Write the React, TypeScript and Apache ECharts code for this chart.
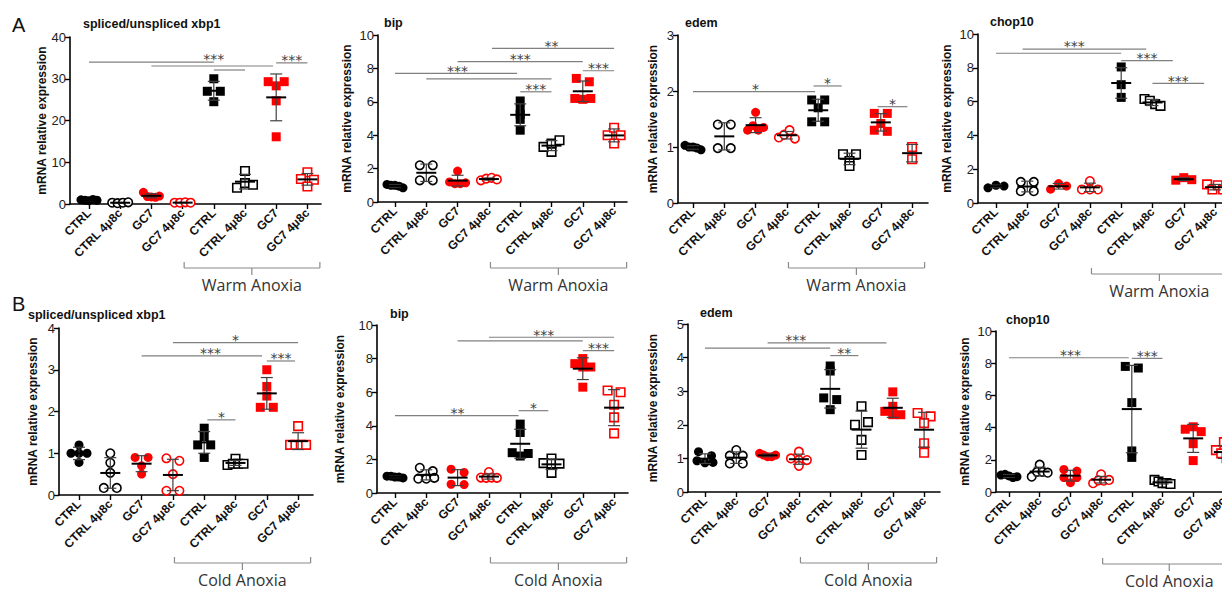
import React, { useEffect, useRef } from "react";
import * as echarts from "echarts";

// ---------------- DATA ----------------
const CATEGORIES = ["CTRL", "CTRL 4μ8c", "GC7", "GC7 4μ8c", "CTRL", "CTRL 4μ8c", "GC7", "GC7 4μ8c"];
const GENE_TITLES = ["spliced/unspliced xbp1", "bip", "edem", "chop10"];
const ROW_LETTERS = ["A", "B"];
const ROW_CONDITIONS = ["Warm Anoxia", "Cold Anoxia"];
const Y_AXIS_NAME = "mRNA relative expression";

const warmYMax = [40, 10, 3, 10];
const warmYStep = [10, 2, 1, 2];
const coldYMax = [4, 10, 5, 10];
const coldYStep = [1, 2, 1, 2];

// values per category (8 groups)
const warmXbp1 = [
  [1.0, 0.9, 0.8, 1.1, 0.9],
  [0.3, 0.2, 0.3, 0.4],
  [2.8, 1.8, 1.7, 1.6, 1.9],
  [0.3, 0.3, 0.4, 0.3],
  [30.0, 27.0, 27.0, 24.5],
  [7.9, 3.9, 5.0, 4.6],
  [29.3, 28.3, 29.3, 24.7, 16.1],
  [7.6, 6.0, 5.8, 4.2],
];
const warmBip = [
  [1.05, 1.0, 1.0, 0.95, 0.85],
  [2.2, 2.2, 1.3, 1.3],
  [1.2, 1.85, 1.1, 1.1, 1.15],
  [1.3, 1.4, 1.45, 1.35],
  [6.05, 5.55, 5.25, 4.95, 4.3],
  [3.0, 3.3, 3.5, 3.7],
  [7.4, 7.2, 6.2, 6.15, 6.2],
  [4.0, 4.45, 4.0, 3.5],
];
const warmEdem = [
  [1.03, 1.0, 1.0, 0.98, 0.95],
  [1.4, 1.4, 0.98, 0.98],
  [1.3, 1.62, 1.38, 1.3, 1.35],
  [1.17, 1.22, 1.3, 1.15],
  [1.84, 1.7, 1.84, 1.45, 1.45],
  [0.87, 0.87, 0.75, 0.66],
  [1.6, 1.6, 1.42, 1.3, 1.28],
  [1.0, 0.78],
];
const warmChop10 = [
  [0.9, 1.05, 1.0],
  [1.25, 1.25, 0.7, 0.7],
  [0.82, 1.15, 1.0],
  [1.3, 0.8, 0.8, 0.8],
  [8.05, 7.0, 6.25],
  [6.15, 6.05, 5.85, 5.75],
  [1.35, 1.5, 1.38],
  [1.1, 0.8, 1.05, 0.8],
];
const coldXbp1 = [
  [1.0, 1.2, 1.0, 1.0, 0.78],
  [1.0, 0.77, 0.53, 0.17, 0.17],
  [0.9, 0.9, 0.7, 0.5],
  [0.88, 0.82, 0.5, 0.1, 0.1],
  [1.6, 1.4, 1.2, 1.2, 0.9],
  [0.87, 0.72, 0.75, 0.75, 0.75],
  [3.0, 2.6, 2.37, 2.1, 2.1],
  [1.65, 1.2, 1.2, 1.2, 1.2],
];
const coldBip = [
  [1.0, 1.0, 0.95, 0.95, 0.9],
  [1.5, 1.3, 0.85, 0.85, 0.9],
  [1.42, 1.22, 0.52, 0.5],
  [1.25, 0.92, 0.9, 0.92, 0.9],
  [4.1, 3.6, 2.4, 2.2, 2.35],
  [2.05, 1.78, 1.75, 1.75, 1.2],
  [8.0, 7.7, 7.5, 7.5, 6.3],
  [6.1, 6.0, 5.25, 4.5, 3.55],
];
const coldEdem = [
  [1.2, 1.08, 0.93, 0.87, 0.88],
  [1.25, 1.08, 1.08, 0.85, 0.85],
  [1.15, 1.1, 1.05, 1.05, 1.1],
  [1.2, 1.0, 0.95, 0.95, 0.78],
  [3.75, 3.6, 2.8, 2.75, 2.45],
  [2.55, 2.0, 2.08, 1.55, 1.1],
  [2.98, 2.55, 2.4, 2.3, 2.3],
  [2.35, 2.25, 2.05, 1.45, 1.17],
];
const coldChop10 = [
  [1.05, 1.1, 1.0, 0.9, 0.95],
  [1.7, 0.95, 1.25, 1.25, 1.2],
  [1.4, 1.3, 0.9, 0.9, 0.58],
  [1.1, 0.55, 0.72, 0.7, 0.75],
  [7.8, 7.7, 5.55, 2.55, 2.15],
  [0.75, 0.65, 0.55, 0.55, 0.5],
  [3.9, 4.05, 3.75, 3.0, 1.95],
  [3.1, 2.6, 2.4, 2.1, 2.2],
];

// significance: [fromCategory, toCategory, yValue, label, labelAtCategory?]
const warmXbp1Sig = [
  [0, 4, 34.0, "***", 4],
  [2, 5.9, 33.05, ""],
  [4, 5, 32.1, ""],
  [6, 7, 33.8, "***"],
];
const warmBipSig = [
  [0, 3.9, 7.7, "***", 2],
  [1, 5, 7.37, ""],
  [4, 5, 6.6, "***"],
  [2, 6, 8.4, "***"],
  [6, 7, 7.86, "***"],
  [3.1, 7, 9.2, "**", 5],
];
const warmEdemSig = [
  [0, 3.9, 1.99, "*", 2],
  [3.85, 4.75, 2.09, "*"],
  [5.9, 6.85, 1.72, "*"],
];
const warmChop10Sig = [
  [0, 4, 8.86, ""],
  [0.85, 4.8, 9.11, "***", 2.5],
  [4, 5.65, 8.42, "***"],
  [5, 6.65, 7.08, "***"],
];
const coldXbp1Sig = [
  [2, 5.85, 3.33, "***", 4.2],
  [3, 7, 3.65, "*"],
  [6, 6.9, 3.21, "***"],
  [4.1, 5, 1.8, "*"],
];
const coldBipSig = [
  [0, 3.95, 4.6, "**", 2],
  [3.95, 4.9, 4.9, "*"],
  [2, 6, 9.05, ""],
  [3, 7, 9.27, "***", 4.75],
  [6, 7, 8.47, "***"],
];
const coldEdemSig = [
  [0, 4, 4.28, ""],
  [2, 5.8, 4.44, "***", 2.9],
  [4, 4.9, 4.06, "**"],
];
const coldChop10Sig = [
  [0, 3.9, 8.34, "***", 2],
  [4, 5, 8.3, "***"],
];

// ---------------- LAYOUT / STYLE ----------------
const LAYOUT = [
  { axisX: 70, top: 37, bottom: 204, c0: 89, sp: 31.2, end: 321, titleX: 83, titleY: 24, nameX: 43, bracketY: 268 },
  { axisX: 378, top: 35, bottom: 202, c0: 395, sp: 31.3, end: 627, titleX: 384, titleY: 23, nameX: 347, bracketY: 268 },
  { axisX: 678, top: 35, bottom: 203, c0: 693, sp: 31.3, end: 928, titleX: 685, titleY: 23, nameX: 653, bracketY: 268 },
  { axisX: 978, top: 34, bottom: 203, c0: 996, sp: 31.3, end: 1235, titleX: 990, titleY: 22, nameX: 947, bracketY: 274 },
  { axisX: 59, top: 328, bottom: 495, c0: 79, sp: 31.3, end: 313, titleX: 28, titleY: 315, nameX: 33, bracketY: 563 },
  { axisX: 377, top: 325, bottom: 493, c0: 395, sp: 31.3, end: 628, titleX: 390, titleY: 314, nameX: 340, bracketY: 563 },
  { axisX: 688, top: 324, bottom: 492, c0: 705, sp: 31.3, end: 940, titleX: 700, titleY: 313, nameX: 653, bracketY: 563 },
  { axisX: 996, top: 331, bottom: 492, c0: 1009, sp: 30.7, end: 1240, titleX: 1006, titleY: 320, nameX: 965, bracketY: 564 },
];

const RED = "#ff0000";
const BLACK = "#000000";
const GROUP_STYLE = [
  { symbol: "circle", color: BLACK, open: false },
  { symbol: "circle", color: BLACK, open: true },
  { symbol: "circle", color: RED, open: false },
  { symbol: "circle", color: RED, open: true },
  { symbol: "rect", color: BLACK, open: false },
  { symbol: "rect", color: BLACK, open: true },
  { symbol: "rect", color: RED, open: false },
  { symbol: "rect", color: RED, open: true },
];

const AXIS_FONT = "'Liberation Sans', Arial, sans-serif";
const LABEL_FONT = "'Open Sans', 'Noto Sans', sans-serif";
const MARKER = 9;

function meanOf(a: number[]) {
  return a.reduce((s, v) => s + v, 0) / a.length;
}
function sdOf(a: number[]) {
  if (a.length < 2) return 0;
  const m = meanOf(a);
  return Math.sqrt(a.reduce((s, v) => s + (v - m) * (v - m), 0) / (a.length - 1));
}

// GraphPad-like row spreading (returns pixel offsets)
function spread(values: number[], pxPerUnit: number) {
  const items = values.map((v, i) => ({ v, i, off: 0 }));
  const sorted = [...items].sort((a, b) => b.v - a.v);
  const rows: any[][] = [];
  let cur: any[] = [sorted[0]];
  for (let k = 1; k < sorted.length; k++) {
    if ((sorted[k - 1].v - sorted[k].v) * pxPerUnit < 4.5) cur.push(sorted[k]);
    else {
      rows.push(cur);
      cur = [sorted[k]];
    }
  }
  rows.push(cur);
  rows.forEach((row) => {
    row.sort((a, b) => a.i - b.i);
    const n = row.length;
    const s = n > 1 ? Math.min(13, 16 / (n - 1)) : 0;
    row.forEach((it, j) => (it.off = (j - (n - 1) / 2) * s));
  });
  return items;
}

function setText(el: any, text: string, font: string, fill: string, align: string, vAlign: string) {
  el.style = {
    text,
    font,
    fill,
    align,
    verticalAlign: vAlign,
    textAlign: align,
    textVerticalAlign: vAlign,
  };
  return el;
}

function buildOption() {
  const panels = [
    { values: warmXbp1, sig: warmXbp1Sig, yMax: warmYMax[0], yStep: warmYStep[0] },
    { values: warmBip, sig: warmBipSig, yMax: warmYMax[1], yStep: warmYStep[1] },
    { values: warmEdem, sig: warmEdemSig, yMax: warmYMax[2], yStep: warmYStep[2] },
    { values: warmChop10, sig: warmChop10Sig, yMax: warmYMax[3], yStep: warmYStep[3] },
    { values: coldXbp1, sig: coldXbp1Sig, yMax: coldYMax[0], yStep: coldYStep[0] },
    { values: coldBip, sig: coldBipSig, yMax: coldYMax[1], yStep: coldYStep[1] },
    { values: coldEdem, sig: coldEdemSig, yMax: coldYMax[2], yStep: coldYStep[2] },
    { values: coldChop10, sig: coldChop10Sig, yMax: coldYMax[3], yStep: coldYStep[3] },
  ];

  const grid: any[] = [];
  const xAxis: any[] = [];
  const yAxis: any[] = [];
  const series: any[] = [];
  const graphic: any[] = [];

  panels.forEach((p, pi) => {
    const L = LAYOUT[pi];
    const row = pi < 4 ? 0 : 1;
    const xMin = -(L.c0 - L.axisX) / L.sp;
    const xMax = (L.end - L.c0) / L.sp;
    grid.push({
      left: L.axisX,
      top: L.top,
      width: L.end - L.axisX,
      height: L.bottom - L.top,
      containLabel: false,
      outerBoundsMode: "none",
    });
    const catIdx = CATEGORIES.map((_, i) => i);
    xAxis.push({
      type: "value",
      gridIndex: pi,
      min: xMin,
      max: xMax,
      splitLine: { show: false },
      axisLine: { show: true, onZero: false, lineStyle: { color: "#000", width: 1.6 } },
      axisTick: { show: true, customValues: catIdx, length: 5, lineStyle: { color: "#000", width: 1.4 } },
      axisLabel: {
        show: true,
        customValues: catIdx,
        formatter: (v: number) => CATEGORIES[Math.round(v)] ?? "",
        rotate: 45,
        margin: 7,
        fontFamily: AXIS_FONT,
        fontWeight: "bold",
        fontSize: 12,
        color: "#111",
      },
    });
    yAxis.push({
      type: "value",
      gridIndex: pi,
      min: 0,
      max: p.yMax,
      interval: p.yStep,
      splitLine: { show: false },
      axisLine: { show: true, onZero: false, lineStyle: { color: "#000", width: 1.6 } },
      axisTick: { show: true, length: 5, lineStyle: { color: "#000", width: 1.4 } },
      axisLabel: { fontFamily: AXIS_FONT, fontSize: 13, color: "#222", margin: 4 },
      name: Y_AXIS_NAME,
      nameLocation: "middle",
      nameRotate: 90,
      nameGap: L.axisX - L.nameX - 6,
      nameTextStyle: { fontFamily: AXIS_FONT, fontWeight: "bold", fontSize: 12, color: "#111" },
    });

    const pxPerUnit = (L.bottom - L.top) / p.yMax;
    const points: any[] = [];
    p.values.forEach((g, gi) => {
      const st = GROUP_STYLE[gi];
      spread(g, pxPerUnit).forEach((it) => {
        points.push({
          value: [gi + it.off / L.sp, it.v],
          symbol: st.symbol,
          symbolSize: st.open ? MARKER - 0.5 : MARKER,
          itemStyle: st.open
            ? { color: "#ffffff", borderColor: st.color, borderWidth: 1.6, opacity: 1 }
            : { color: st.color, borderWidth: 0, opacity: 1 },
        });
      });
    });
    series.push({
      type: "scatter",
      xAxisIndex: pi,
      yAxisIndex: pi,
      silent: true,
      z: 2,
      itemStyle: { opacity: 1 },
      data: points,
    });

    // mean + SD
    const stats = p.values.map((g, gi) => [gi, meanOf(g), sdOf(g)]);
    series.push({
      type: "custom",
      xAxisIndex: pi,
      yAxisIndex: pi,
      silent: true,
      z: 3,
      clip: false,
      encode: { x: 0, y: [1, 2] },
      data: stats,
      renderItem: (params: any, api: any) => {
        const c = api.value(0);
        const m = api.value(1);
        const s = api.value(2);
        const pm = api.coord([c, m]);
        const hi = api.coord([c, m + s]);
        const lo = api.coord([c, Math.max(m - s, 0)]);
        const eb = { stroke: "#404040", lineWidth: 1.2 };
        return {
          type: "group",
          children: [
            { type: "line", shape: { x1: pm[0], y1: hi[1], x2: pm[0], y2: lo[1] }, style: eb },
            { type: "line", shape: { x1: pm[0] - 6, y1: hi[1], x2: pm[0] + 6, y2: hi[1] }, style: eb },
            { type: "line", shape: { x1: pm[0] - 6, y1: lo[1], x2: pm[0] + 6, y2: lo[1] }, style: eb },
            { type: "line", shape: { x1: pm[0] - 10, y1: pm[1], x2: pm[0] + 10, y2: pm[1] }, style: { stroke: "#000", lineWidth: 2 } },
          ],
        };
      },
    });

    // significance lines
    const sigData = p.sig.map((s: any[]) => [s[0], s[1], s[2], s[4] !== undefined ? s[4] : (s[0] + s[1]) / 2]);
    const sigLabels = p.sig.map((s: any[]) => s[3]);
    series.push({
      type: "custom",
      xAxisIndex: pi,
      yAxisIndex: pi,
      silent: true,
      z: 3,
      clip: false,
      encode: { x: [0, 1, 3], y: 2 },
      data: sigData,
      renderItem: (params: any, api: any) => {
        const a = api.coord([api.value(0), api.value(2)]);
        const b = api.coord([api.value(1), api.value(2)]);
        const lx = api.coord([api.value(3), api.value(2)])[0];
        const label = sigLabels[params.dataIndex];
        const children: any[] = [
          { type: "line", shape: { x1: a[0], y1: a[1], x2: b[0], y2: b[1] }, style: { stroke: "#808080", lineWidth: 1.2 } },
        ];
        if (label) {
          const t: any = { type: "text", x: lx, y: a[1] - 2.6 };
          setText(t, label, "14px 'DejaVu Sans', sans-serif", "#404040", "center", "middle");
          children.push(t);
        }
        return { type: "group", children };
      },
    });

    // condition bracket
    series.push({
      type: "custom",
      xAxisIndex: pi,
      yAxisIndex: pi,
      silent: true,
      z: 3,
      clip: false,
      encode: { x: [0, 1, 2], y: 3 },
      data: [[3.05, 7.4, 5.22, 0]],
      renderItem: (params: any, api: any) => {
        const x1 = api.coord([api.value(0), 0])[0];
        const x2 = api.coord([api.value(1), 0])[0];
        const xm = api.coord([api.value(2), 0])[0];
        const y = L.bracketY;
        const st = { stroke: "#8a8a8a", lineWidth: 1.2 };
        const t: any = { type: "text", x: xm, y: y + 16.5 };
        setText(t, ROW_CONDITIONS[row], `16px ${LABEL_FONT}`, "#333", "center", "middle");
        return {
          type: "group",
          children: [
            { type: "line", shape: { x1, y1: y, x2, y2: y }, style: st },
            { type: "line", shape: { x1, y1: y - 6, x2: x1, y2: y }, style: st },
            { type: "line", shape: { x1: x2, y1: y - 6, x2, y2: y }, style: st },
            { type: "line", shape: { x1: xm, y1: y, x2: xm, y2: y + 7 }, style: st },
            t,
          ],
        };
      },
    });

    // panel title
    const title: any = { type: "text", x: L.titleX, y: L.titleY, silent: true };
    setText(title, GENE_TITLES[pi % 4], `bold 12.5px ${AXIS_FONT}`, "#111", "left", "middle");
    graphic.push(title);
  });

  ROW_LETTERS.forEach((letter, r) => {
    const t: any = { type: "text", x: 12, y: r === 0 ? 25 : 304, silent: true };
    setText(t, letter, `20px ${AXIS_FONT}`, "#111", "left", "middle");
    graphic.push(t);
  });

  return {
    animation: false,
    backgroundColor: "#ffffff",
    grid,
    xAxis,
    yAxis,
    series,
    graphic,
  };
}

export default function App() {
  const ref = useRef<HTMLDivElement>(null);
  useEffect(() => {
    if (!ref.current) return;
    const chart = echarts.init(ref.current, undefined, { renderer: "svg" });
    chart.setOption(buildOption() as any);
    return () => chart.dispose();
  }, []);
  return (
    <div
      ref={ref}
      style={{ position: "fixed", left: 0, top: 0, width: 1222, height: 590, background: "#fff" }}
    />
  );
}
